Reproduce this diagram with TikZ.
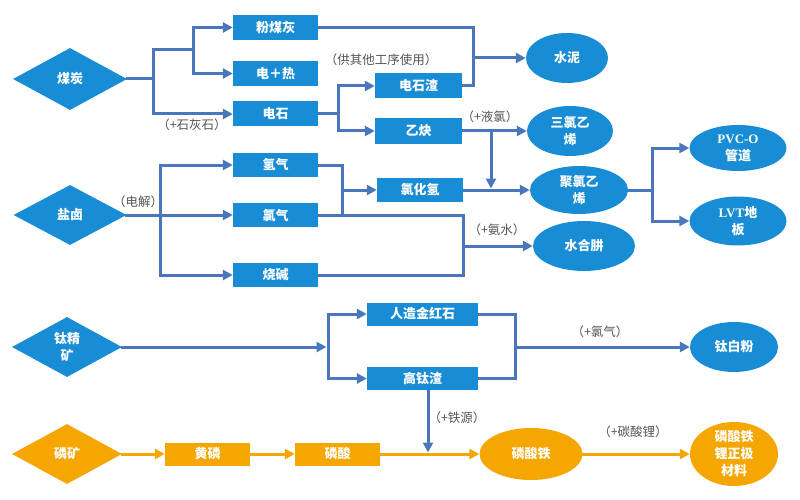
\documentclass[tikz,border=0pt]{standalone}
\usepackage{fontspec}
\setmainfont{Liberation Serif}
\newfontfamily\cjk{Noto Sans CJK SC}
\usetikzlibrary{shapes.geometric,arrows.meta,backgrounds}
\definecolor{fillblue}{RGB}{24,140,212}
\definecolor{connblue}{RGB}{74,118,188}
\definecolor{orng}{RGB}{245,166,0}
\definecolor{lblgrey}{RGB}{85,85,85}
\begin{document}
\begin{tikzpicture}[x=1pt,y=-1pt,
 every node/.style={font=\cjk\bfseries\fontsize{13}{17}\selectfont, text=white, inner sep=0pt},
 boxb/.style={rectangle, fill=fillblue, minimum width=85pt, minimum height=25pt},
 boxo/.style={boxb, fill=orng, minimum height=23pt},
 diab/.style={diamond, fill=fillblue, minimum width=114pt, minimum height=62pt, align=center},
 diao/.style={diab, fill=orng},
 ellb/.style={ellipse, fill=fillblue, align=center},
 ello/.style={ellb, fill=orng},
 lbl/.style={font=\cjk\fontsize{12.5}{15}\selectfont, text=lblgrey},
 conn/.style={draw=connblue, line width=3pt, line cap=rect},
 arr/.style={conn, -{Triangle[length=10pt,width=10pt]}},
 conno/.style={draw=orng, line width=3pt, line cap=rect},
 arro/.style={conno, -{Triangle[length=10pt,width=10pt]}},
]
\useasboundingbox (0,0) rectangle (800,500);

% diamonds
\node[diab] (coal) at (70,79) {煤炭};
\node[diab, minimum width=113pt, minimum height=60pt] (yanlu) at (70,215) {盐卤};
\node[diab, minimum width=110pt, minimum height=60pt] (tjk) at (67,347) {钛精\\矿};
\node[diao, minimum width=110pt, minimum height=60pt] (linkuang) at (67,454) {磷矿};

% boxes
\node[boxb] (fmh) at (275.5,27.5) {粉煤灰};
\node[boxb] (drr) at (275.5,73.5) {电＋热};
\node[boxb] (dianshi) at (275.5,114) {电石};
\node[boxb, minimum width=87pt] (dsz) at (418.5,86) {电石渣};
\node[boxb, minimum width=87pt] (yq) at (418.5,131) {乙炔};
\node[boxb, minimum height=24pt] (qq) at (275.5,165) {氢气};
\node[boxb, minimum height=24pt] (lq) at (275.5,215) {氯气};
\node[boxb, minimum height=24pt] (sj) at (275.5,275) {烧碱};
\node[boxb, minimum width=86pt, minimum height=24pt] (hlq) at (420,190) {氯化氢};
\node[boxb, minimum width=111pt, minimum height=23pt] (rzjhs) at (422.5,314) {人造金红石};
\node[boxb, minimum width=111pt, minimum height=23pt] (gtz) at (422.5,378.5) {高钛渣};
\node[boxo] (huanglin) at (207.5,454) {黄磷};
\node[boxo] (linsuan) at (337.5,454) {磷酸};

% ellipses
\node[ellb, minimum width=82pt, minimum height=50pt] (shuini) at (567,58) {水泥};
\node[ellb, minimum width=86pt, minimum height=50pt] (slyx) at (570,131) {三氯乙\\烯};
\node[ellb, minimum width=98pt, minimum height=48pt] (jlyx) at (579,190) {聚氯乙\\烯};
\node[ellb, minimum width=102pt, minimum height=50pt] (shz) at (584,246) {水合肼};
\node[ellb, minimum width=97pt, minimum height=46pt] (pvc) at (738,148) {{\rmfamily PVC-O}\\管道};
\node[ellb, minimum width=97pt, minimum height=49pt] (lvt) at (738,221) {{\rmfamily LVT}地\\板};
\node[ellb, minimum width=88pt, minimum height=50pt] (tbf) at (734,347) {钛白粉};
\node[ello, minimum width=103pt, minimum height=52pt] (lst) at (531,454) {磷酸铁};
\node[ello, minimum width=88pt, minimum height=64pt, inner sep=-3pt] (lfp) at (734,454) {磷酸铁\\锂正极\\材料};

% labels
\node[lbl] (l1) at (192,125) {（+石灰石）};
\node[lbl] (l2) at (381,60) {（供其他工序使用）};
\node[lbl] (l3) at (490,117) {（+液氯）};
\node[lbl] (l4) at (138,202) {（电解）};
\node[lbl] (l5) at (497,230) {（+氨水）};
\node[lbl] (l6) at (600,332) {（+氯气）};
\node[lbl] (l7) at (457,418) {（+铁源）};
\node[lbl] (l8) at (633,432) {（+碳酸锂）};

% junction coordinates
\coordinate (jc1) at (153,79);
\coordinate (jcA) at (153,50);
\coordinate (jcB) at (193,50);
\coordinate (jw1) at (473,58);
\coordinate (jd1) at (338,114);
\coordinate (jx1) at (491,131);
\coordinate (jx2) at (491,188.5);
\coordinate (js1) at (160,215);
\coordinate (js2) at (342,215);
\coordinate (js3) at (463,246);
\coordinate (js4) at (342,190);
\coordinate (jp1) at (652,190);
\coordinate (jt0) at (326.5,347);
\coordinate (jt1) at (328,347);
\coordinate (jt2) at (515,347);
\coordinate (jt4) at (428,452.5);

\begin{scope}[on background layer]
% coal
\draw[conn] (coal.east) -- (jc1);
\draw[arr] (jcA) |- (dianshi.west);
\draw[conn] (jcA) -- (jcB);
\draw[arr] (jcB) |- (fmh.west);
\draw[arr] (jcB) |- (drr.west);
\draw[conn] (fmh.east) -| (jw1) |- (dsz.east);
\draw[arr] (jw1) -- (shuini.west);
\draw[conn] (dianshi.east) -- (jd1);
\draw[arr] (jd1) |- (dsz.west);
\draw[arr] (jd1) |- (yq.west);
\draw[arr] (yq.east) -- (slyx.west);
\draw[arr] (jx1) -- (jx2);
% salt
\draw[arr] (yanlu.east) -- (lq.west);
\draw[arr] (js1) |- (qq.west);
\draw[arr] (js1) |- (sj.west);
\draw[conn] (qq.east) -| (js2);
\draw[conn] (lq.east) -| (js3) |- (sj.east);
\draw[arr] (js3) -- (shz.west);
\draw[arr] (js4) -- (hlq.west);
\draw[arr] (hlq.east) -- (jlyx.west);
\draw[conn] (jlyx.east) -- (jp1);
\draw[arr] (jp1) |- (pvc.west);
\draw[arr] (jp1) |- (lvt.west);
% titanium
\draw[arr] (tjk.east) -- (jt0);
\draw[arr] (jt1) |- (rzjhs.west);
\draw[arr] (jt1) |- (gtz.west);
\draw[conn] (rzjhs.east) -| (jt2) |- (gtz.east);
\draw[arr] (jt2) -- (tbf.west);
% phosphorus
\draw[arro] (linkuang.east) -- (huanglin.west);
\draw[arro] (huanglin.east) -- (linsuan.west);
\draw[arro] (linsuan.east) -- (lst.west);
\draw[arro] (lst.east) -- (lfp.west);
\draw[arr] (gtz.south -| jt4) -- (jt4);
\end{scope}
\end{tikzpicture}
\end{document}
